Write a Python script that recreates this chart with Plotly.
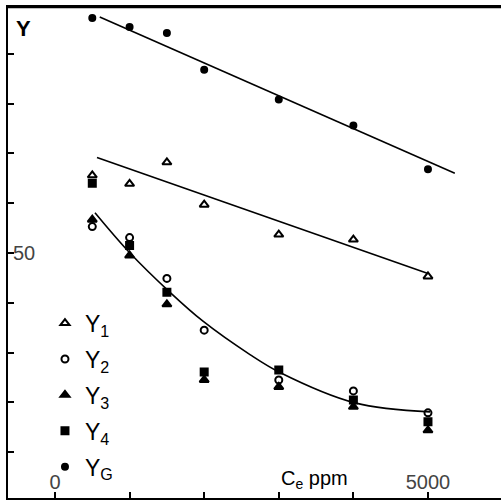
import plotly.graph_objects as go

# Concentration Ce (ppm)
ce = [500, 1000, 1500, 2000, 3000, 4000, 5000]

y1 = [65.6, 63.9, 68.2, 59.7, 53.7, 52.7, 45.3]
y2 = [55.3, 53.1, 44.9, 34.5, 24.5, 22.3, 17.9]
y3 = [56.7, 49.5, 39.7, 24.5, 23.1, 19.1, 14.4]
y4 = [64.0, 51.5, 42.1, 26.1, 26.5, 20.5, 16.1]
yg = [97.2, 95.4, 94.2, 86.8, 80.8, 75.6, 66.8]

# fitted lines / curve
yg_fit_x = [600, 5360]
yg_fit_y = [97.4, 66.0]
y1_fit_x = [563, 5000]
y1_fit_y = [69.2, 45.9]
curve_x = [536, 1005, 1542, 1984, 2614, 3016, 4021, 5027]
curve_y = [58.1, 50.0, 42.1, 36.3, 29.6, 26.0, 19.9, 18.1]

x_ticks = [0, 1000, 2000, 3000, 4000, 5000]
x_ticktext = ["0", "", "", "", "", "5000"]
y_ticks = [10, 20, 30, 40, 50, 60, 70, 80, 90]
y_ticktext = ["", "", "", "", "50", "", "", "", ""]

FONT = "Liberation Sans, Arial, sans-serif"
fig = go.Figure()

line_style = dict(color="black", width=1.6)
fig.add_trace(go.Scatter(x=yg_fit_x, y=yg_fit_y, mode="lines", line=line_style, showlegend=False, hoverinfo="skip"))
fig.add_trace(go.Scatter(x=y1_fit_x, y=y1_fit_y, mode="lines", line=line_style, showlegend=False, hoverinfo="skip"))
fig.add_trace(go.Scatter(x=curve_x, y=curve_y, mode="lines", line=dict(color="black", width=1.6, shape="spline"),
                         showlegend=False, hoverinfo="skip"))

series = [
    ("Y<sub>1</sub>", y1, "triangle-up-open", 8),
    ("Y<sub>2</sub>", y2, "circle-open", 7),
    ("Y<sub>3</sub>", y3, "triangle-up", 8),
    ("Y<sub>4</sub>", y4, "square", 7),
    ("Y<sub>G</sub>", yg, "circle", 6),
]
for i, (name, vals, sym, sz) in enumerate(series):
    fig.add_trace(go.Scatter(
        x=ce, y=vals, mode="markers", name=name, legendgroup=f"g{i}",
        marker=dict(symbol=sym, size=sz, color="black", line=dict(color="black", width=2)),
    ))

fig.update_layout(
    width=501, height=501,
    margin=dict(l=8, r=0, t=7, b=3),
    paper_bgcolor="white", plot_bgcolor="white",
    font=dict(family=FONT, color="black", size=20),
    legend=dict(x=0.075, y=0.40, xanchor="left", yanchor="top", bgcolor="rgba(0,0,0,0)",
                font=dict(size=23, family=FONT), tracegroupgap=3),
    xaxis=dict(range=[-630, 5979], showgrid=False, zeroline=False, showline=True, linecolor="black",
               linewidth=2, mirror=True, ticks="inside", ticklen=6, tickwidth=1.5, tickcolor="black",
               tickvals=x_ticks, ticktext=x_ticktext, ticklabelposition="inside",
               tickfont=dict(size=20, family=FONT)),
    yaxis=dict(range=[0.8, 99.4], showgrid=False, zeroline=False, showline=True, linecolor="black",
               linewidth=2, ticks="inside", ticklen=6, tickwidth=1.5, tickcolor="black",
               tickvals=y_ticks, ticktext=y_ticktext, ticklabelposition="inside",
               tickfont=dict(size=20, family=FONT)),
    shapes=[dict(type="line", xref="paper", yref="paper", x0=0, x1=1, y0=1.0, y1=1.0,
                 layer="above", line=dict(color="black", width=2.5))],
    annotations=[
        dict(text="<b>Y</b>", xref="paper", yref="paper", x=0.012, y=0.985, xanchor="left", yanchor="top",
             showarrow=False, font=dict(size=22, family=FONT)),
        dict(text="C<sub>e</sub> ppm", xref="x", yref="paper", x=3485, y=0.008, xanchor="center",
             yanchor="bottom", showarrow=False, font=dict(size=20, family=FONT)),
    ],
)

fig.write_html("out.html", config={"displayModeBar": False},
               post_script="document.body.style.margin='0';document.body.style.overflow='hidden';")
